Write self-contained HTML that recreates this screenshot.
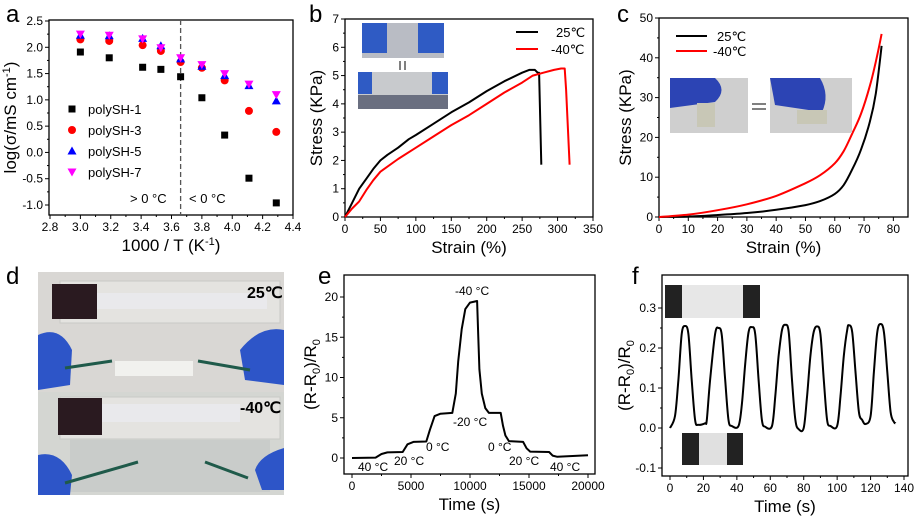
<!DOCTYPE html>
<html><head><meta charset="utf-8"><style>
body{margin:0;background:#fff}
svg{display:block;font-family:"Liberation Sans",sans-serif}
</style></head><body>
<svg id="fig" width="923" height="521" viewBox="0 0 923 521" xmlns="http://www.w3.org/2000/svg">
<rect width="923" height="521" fill="#fff"/>
<text x="6" y="22" font-size="24">a</text>
<text x="309" y="22" font-size="24">b</text>
<text x="617" y="22" font-size="24">c</text>
<text x="6" y="284" font-size="24">d</text>
<text x="318" y="284" font-size="24">e</text>
<text x="632" y="284" font-size="24">f</text>
<!-- panel d photo -->
<g>
<rect x="38" y="272" width="246" height="223" fill="#d9d7d4"/>
<rect x="38" y="392" width="246" height="103" fill="#d4d6d2"/>
<rect x="60" y="281" width="220" height="42" fill="#e4e3e0" stroke="#c9c9c6"/>
<rect x="52" y="284" width="45" height="35" fill="#2a1a20"/>
<rect x="97" y="293" width="170" height="16" fill="#e9e9ec"/>
<rect x="60" y="397" width="220" height="42" fill="#e4e3e0" stroke="#c9c9c6"/>
<rect x="58" y="398" width="44" height="37" fill="#2a1a20"/>
<rect x="102" y="404" width="138" height="18" fill="#e9e9ec"/>
<rect x="115" y="361" width="78" height="15" fill="#f1f1ee"/>
<rect x="70" y="440" width="200" height="52" fill="#c9ccca"/>
<path d="M38 335 Q60 325 72 350 L70 385 L38 390Z" fill="#2d55c8"/>
<path d="M284 330 Q260 325 240 350 L245 380 L284 385Z" fill="#2d55c8"/>
<path d="M38 455 Q60 450 72 475 L70 495 L38 495Z" fill="#2d55c8"/>
<path d="M284 448 Q260 455 255 470 L262 490 L284 490Z" fill="#2d55c8"/>
<path d="M65 368 L112 361 M198 361 L250 370 M65 483 L138 462 M205 462 L248 478" stroke="#1f5a4a" stroke-width="3" fill="none"/>
<text x="247" y="298" font-size="16" font-weight="bold">25℃</text>
<text x="240" y="413" font-size="16" font-weight="bold">-40℃</text>
</g>
<g id="plots"></g>
<!-- insets -->
<g>
<rect x="362" y="23" width="82" height="35" fill="#b9bcc4"/><rect x="362" y="23" width="25" height="30" fill="#2f5bc4"/><rect x="418" y="23" width="26" height="30" fill="#2f5bc4"/>
<rect x="358" y="72" width="90" height="37" fill="#c8cacd"/><rect x="358" y="95" width="90" height="14" fill="#6a6f80"/><rect x="358" y="72" width="14" height="22" fill="#2f5bc4"/><rect x="432" y="72" width="16" height="22" fill="#2f5bc4"/>
<path d="M400 61 L400 70 M405 70 L405 61" stroke="#000" stroke-width="1"/>
<rect x="670" y="78" width="78" height="55" fill="#cfcfcf"/><path d="M670 78 L715 78 Q728 90 715 102 L670 108Z" fill="#2c44b4"/><rect x="697" y="103" width="18" height="24" fill="#c8c7b6"/>
<rect x="770" y="78" width="82" height="55" fill="#cfcfcf"/><path d="M770 78 L820 78 Q830 95 822 112 L775 105Z" fill="#2c44b4"/><rect x="797" y="110" width="30" height="14" fill="#c8c7b6"/>
<path d="M752 104 L766 104 M766 109 L752 109" stroke="#000"/>
<rect x="665" y="285" width="95" height="33" fill="#e7e7e7"/><rect x="665" y="285" width="17" height="33" fill="#222"/><rect x="743" y="285" width="17" height="33" fill="#222"/>
<rect x="682" y="433" width="61" height="32" fill="#e0e0e0"/><rect x="682" y="433" width="17" height="32" fill="#222"/><rect x="727" y="433" width="16" height="32" fill="#222"/>
</g>
</svg>
<script>
// Panel a data
const aX=[3.0,3.19,3.41,3.53,3.66,3.80,3.95,4.11,4.29];
const aS1=[1.91,1.80,1.62,1.58,1.44,1.04,0.33,-0.49,-0.96];
const aS3=[2.15,2.12,2.04,1.93,1.72,1.61,1.37,0.79,0.39];
const aS5=[2.23,2.22,2.17,2.03,1.78,1.64,1.46,1.27,0.98];
const aS7=[2.25,2.23,2.16,1.99,1.80,1.67,1.50,1.30,1.10];
const aXTicks=[2.8,3.0,3.2,3.4,3.6,3.8,4.0,4.2,4.4];
const aYTicks=[-1.0,-0.5,0.0,0.5,1.0,1.5,2.0,2.5];
// Panel b data
const b25X=[0,10,20,30,40,50,60,75,90,100,125,150,175,200,225,250,260,268,272,274,277];
const b25Y=[0,0.5,1.0,1.35,1.7,2.0,2.2,2.45,2.75,2.9,3.3,3.7,4.05,4.45,4.8,5.1,5.2,5.2,5.1,5.1,1.85];
const b40X=[0,10,20,30,40,50,75,100,125,150,175,200,225,250,265,280,295,305,310,312,317];
const b40Y=[0,0.3,0.55,0.95,1.3,1.6,2.05,2.45,2.85,3.25,3.6,4.0,4.4,4.75,5.0,5.1,5.2,5.25,5.25,4.5,1.85];
const bXTicks=[0,50,100,150,200,250,300,350];
const bYTicks=[0,1,2,3,4,5,6,7];
// Panel c data
const c25X=[0,10,20,30,40,50,55,60,63,66,69,72,74,76];
const c25Y=[0,0.1,0.5,1.0,1.8,3.0,4.0,5.8,8,12,17,24,31,43];
const c40X=[0,10,20,30,40,50,55,60,63,66,69,72,74,76];
const c40Y=[0,0.6,1.7,3.2,5.3,8.5,10.5,13.5,16.5,21,26,33,39,46];
const cXTicks=[0,10,20,30,40,50,60,70,80];
const cYTicks=[0,10,20,30,40,50];
// Panel e data
const eX=[0,2000,2500,3000,4300,4700,5200,6300,6600,7000,7500,8500,8800,9000,9300,9600,10000,10600,10700,10800,11000,11300,11600,12600,12800,13000,13300,14500,14800,15100,16700,17000,17400,20000];
const eY=[0,0.05,0.5,0.7,0.75,1.7,2.0,2.05,3.5,5.2,5.5,5.6,8,12,16,18.5,19.3,19.5,15,11,8,6.2,5.6,5.6,4,2.8,2.1,2.0,1.2,0.8,0.75,0.3,0.15,0.35];
const eXTicks=[0,5000,10000,15000,20000];
const eYTicks=[0,5,10,15,20];
// Panel f data
const fX=[0,3,5,7,9,11,13,15,17,21,22,24,27,29,31,33,35,37,41,43,45,47,49,51,53,55,57,61,63,65,67,69,71,73,75,77,80,82,84,86,88,90,92,94,96,100,102,104,106,107,109,111,113,115,117,120,122,124,126,128,130,132,134,135];
const fY=[0,0.03,0.12,0.235,0.255,0.235,0.12,0.02,0.008,0.012,0.02,0.12,0.235,0.25,0.232,0.12,0.02,0.005,0.005,0.06,0.16,0.24,0.252,0.235,0.12,0.02,0.003,0.005,0.08,0.18,0.245,0.258,0.24,0.12,0.02,-0.003,0,0.08,0.18,0.24,0.254,0.235,0.12,0.02,0.005,0.005,0.08,0.18,0.245,0.257,0.24,0.14,0.04,0.02,0.01,0.03,0.14,0.24,0.26,0.24,0.14,0.04,0.015,0.012];
const fXTicks=[0,20,40,60,80,100,120,140];
const fYTicks=[-0.1,0.0,0.1,0.2,0.3];

const NS="http://www.w3.org/2000/svg";
const root=document.getElementById('plots');
function mk(tag,attrs,parent){const e=document.createElementNS(NS,tag);for(const k in attrs)e.setAttribute(k,attrs[k]);(parent||root).appendChild(e);return e;}
function lin(d0,d1,r0,r1){return v=>r0+(v-d0)*(r1-r0)/(d1-d0);}

function axes(p){
  const g=mk('g',{});
  
  
  mk('rect',{x:p.l,y:p.t,width:p.r-p.l,height:p.b-p.t,fill:'none',stroke:'#000','stroke-width':1.3},g);
  p.xt.forEach((v,i)=>{const x=p.sx(v);
    mk('line',{x1:x,x2:x,y1:p.b,y2:p.b+4,stroke:'#000'},g);
    if(i<p.xt.length-1){const xm=(x+p.sx(p.xt[i+1]))/2;mk('line',{x1:xm,x2:xm,y1:p.b,y2:p.b+2,stroke:'#000'},g);}
    const t=mk('text',{x:x,y:p.b+16,'font-size':12,'text-anchor':'middle'},g);t.textContent=p.xf(v);
    
    
  });
  p.yt.forEach((v,i)=>{const y=p.sy(v);
    mk('line',{x1:p.l-4,x2:p.l,y1:y,y2:y,stroke:'#000'},g);
    if(i<p.yt.length-1){const ym=(y+p.sy(p.yt[i+1]))/2;mk('line',{x1:p.l-2,x2:p.l,y1:ym,y2:ym,stroke:'#000'},g);}
    const t=mk('text',{x:p.l-6,y:y+4,'font-size':12,'text-anchor':'end'},g);t.textContent=p.yf(v);
    
    
  });
  const xt=mk('text',{x:(p.l+p.r)/2,y:p.b+36,'font-size':17,'text-anchor':'middle'},g);xt.innerHTML=p.xl;
  
  
  const cy=(p.t+p.b)/2;
  const yt=mk('text',{x:p.yx,y:cy,'font-size':17,'text-anchor':'middle',transform:`rotate(-90 ${p.yx} ${cy})`},g);yt.innerHTML=p.yl;
  
  
}
function line(xs,ys,sx,sy,color,name,smooth){
  const P=xs.map((x,i)=>[sx(x),sy(ys[i])]);
  let d='M'+P[0][0].toFixed(1)+' '+P[0][1].toFixed(1);
  for(let i=1;i<P.length;i++){
    if(!smooth){d+=' L'+P[i][0].toFixed(1)+' '+P[i][1].toFixed(1);continue;}
    const p0=P[Math.max(0,i-2)],p1=P[i-1],p2=P[i],p3=P[Math.min(P.length-1,i+1)];
    const c1=[p1[0]+(p2[0]-p0[0])/6,p1[1]+(p2[1]-p0[1])/6],c2=[p2[0]-(p3[0]-p1[0])/6,p2[1]-(p3[1]-p1[1])/6];
    d+=` C${c1[0].toFixed(1)} ${c1[1].toFixed(1)} ${c2[0].toFixed(1)} ${c2[1].toFixed(1)} ${p2[0].toFixed(1)} ${p2[1].toFixed(1)}`;
  }
  const e=mk('path',{d:d,fill:'none',stroke:color,'stroke-width':2,'stroke-linejoin':'round'});
  
  
}

// Panel a
{const sx=lin(2.8,4.4,50,293),sy=lin(-1,2.5,205,21);
axes({name:'panel-a',l:49,r:293,t:20,b:215,sx,sy,xt:aXTicks,yt:aYTicks,xf:v=>v.toFixed(1),yf:v=>v.toFixed(1),
  xl:'1000 / T (K<tspan dy="-6" font-size="11">-1</tspan><tspan dy="6">)</tspan>',
  yl:'log(σ/mS cm<tspan dy="-6" font-size="11">-1</tspan><tspan dy="6">)</tspan>',yx:16});
const dl=mk('line',{x1:sx(3.66),x2:sx(3.66),y1:20,y2:215,stroke:'#555','stroke-dasharray':'5,3','stroke-width':1.3});


let t=mk('text',{x:130,y:203,'font-size':13});t.textContent='> 0 °C';
t=mk('text',{x:189,y:203,'font-size':13});t.textContent='< 0 °C';
const series=[[aS1,'#000','sq','polySH-1'],[aS3,'#f00','ci','polySH-3'],[aS5,'#00f','tu','polySH-5'],[aS7,'#f0f','td','polySH-7']];
function marker(kind,x,y,c,name){let e;
  if(kind==='sq')e=mk('rect',{x:x-3.5,y:y-3.5,width:7,height:7,fill:c});
  else if(kind==='ci')e=mk('circle',{cx:x,cy:y,r:4,fill:c});
  else if(kind==='tu')e=mk('path',{d:`M${x} ${y-4.5}L${x+4.5} ${y+3.5}L${x-4.5} ${y+3.5}Z`,fill:c});
  else e=mk('path',{d:`M${x} ${y+4.5}L${x+4.5} ${y-3.5}L${x-4.5} ${y-3.5}Z`,fill:c});
  
  
}
series.forEach((s,k)=>{
  aX.forEach((x,i)=>marker(s[2],sx(x),sy(s[0][i]),s[1],'point-'+s[3]));
  marker(s[2],72,109+k*21,s[1],'legend-marker');
  const lt=mk('text',{x:88,y:114+k*21,'font-size':13});lt.textContent=s[3];
  
  
});}

// Panel b
{const sx=lin(0,350,345,593),sy=lin(0,7,217,19);
axes({name:'panel-b',l:345,r:593,t:19,b:217,sx,sy,xt:bXTicks,yt:bYTicks,xf:v=>v,yf:v=>v,xl:'Strain (%)',yl:'Stress (KPa)',yx:322});
line(b25X,b25Y,sx,sy,'#000','curve-25c');line(b40X,b40Y,sx,sy,'#f00','curve-minus40c');
mk('line',{x1:516,x2:538,y1:32,y2:32,stroke:'#000','stroke-width':2});
mk('line',{x1:516,x2:538,y1:49,y2:49,stroke:'#f00','stroke-width':2});
let t=mk('text',{x:556,y:37,'font-size':13});t.textContent='25℃';
t=mk('text',{x:551,y:54,'font-size':13});t.textContent='-40℃';}

// Panel c
{const sx=lin(0,85,659,908),sy=lin(0,50,217,18);
axes({name:'panel-c',l:659,r:908,t:18,b:217,sx,sy,xt:cXTicks,yt:cYTicks,xf:v=>v,yf:v=>v,xl:'Strain (%)',yl:'Stress (KPa)',yx:631});
line(c25X,c25Y,sx,sy,'#000','curve-25c',true);line(c40X,c40Y,sx,sy,'#f00','curve-minus40c',true);
mk('line',{x1:676,x2:707,y1:36,y2:36,stroke:'#000','stroke-width':2});
mk('line',{x1:676,x2:707,y1:51,y2:51,stroke:'#f00','stroke-width':2});
let t=mk('text',{x:717,y:41,'font-size':13});t.textContent='25℃';
t=mk('text',{x:713,y:56,'font-size':13});t.textContent='-40℃';}

// Panel e
{const sx=lin(0,20000,352,588),sy=lin(0,20,458,297);
axes({name:'panel-e',l:344,r:595,t:275,b:474,sx,sy,xt:eXTicks,yt:eYTicks,xf:v=>v,yf:v=>v,xl:'Time (s)',
 yl:'(R-R<tspan dy="4" font-size="11">0</tspan><tspan dy="-4">)/R</tspan><tspan dy="4" font-size="11">0</tspan>',yx:316});
line(eX,eY,sx,sy,'#000','resistance-curve');
[['40 °C',358,471],['20 °C',394,465],['0 °C',426,451],['-20 °C',453,426],['-40 °C',455,295],['0 °C',488,451],['20 °C',509,465],['40 °C',550,471]].forEach(a=>{
 const t=mk('text',{x:a[1],y:a[2],'font-size':12});t.textContent=a[0];
 
 });}

// Panel f
{const sx=lin(0,140,670,904),sy=lin(0,0.3,428,308);
axes({name:'panel-f',l:662,r:908,t:275,b:476,sx,sy,xt:fXTicks,yt:fYTicks,xf:v=>v,yf:v=>v.toFixed(1),xl:'Time (s)',
 yl:'(R-R<tspan dy="4" font-size="11">0</tspan><tspan dy="-4">)/R</tspan><tspan dy="4" font-size="11">0</tspan>',yx:630});
line(fX,fY,sx,sy,'#000','strain-response-curve',true);}
</script>
</body></html>
